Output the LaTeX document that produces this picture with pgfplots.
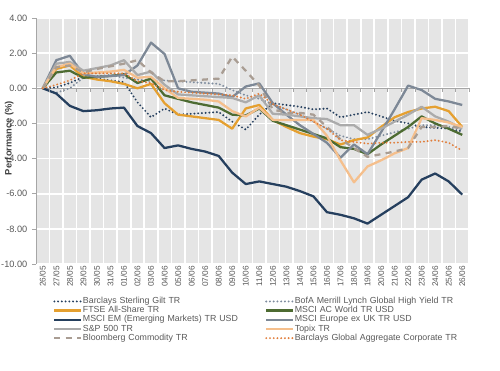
\documentclass[border=0pt]{standalone}
\usepackage{pgfplots}
\usepackage{pgfplotstable}
\pgfplotsset{compat=1.18}
\usepackage{fontspec}
\setmainfont{Liberation Sans}
\definecolor{bgc}{HTML}{E5E5E5}
\definecolor{axc}{HTML}{A6A6A6}
\definecolor{txt}{HTML}{595959}
\definecolor{lab}{HTML}{404040}
\definecolor{cnavy}{HTML}{253F5E}
\definecolor{cbofa}{HTML}{7E8C9E}
\definecolor{cgold}{HTML}{E5A030}
\definecolor{cgreen}{HTML}{4D6B32}
\definecolor{ceur}{HTML}{7D8896}
\definecolor{cspx}{HTML}{ABABAB}
\definecolor{ctopix}{HTML}{F5BF8C}
\definecolor{cbcom}{HTML}{A99D93}
\definecolor{cagg}{HTML}{E07D3A}
\pgfdeclareplotmark{dtick}{\pgfpathmoveto{\pgfpoint{0pt}{0pt}}\pgfpathlineto{\pgfpoint{0pt}{-2.5pt}}\pgfusepathqstroke}
\pgfplotstableread{
i gilt bofa ftse acwi em eur spx topix bcom agg
0 0 0 0 0 0 0 0 0 0 0
1 0.05 -0.25 1.1 0.9 -0.3 1.6 1.4 1.2 1.2 0.2
2 0.3 0.0 1.3 1.0 -1.0 1.85 1.5 1.4 1.3 0.45
3 0.65 0.6 0.65 0.6 -1.3 0.8 1.0 0.85 0.9 0.85
4 0.55 0.7 0.5 0.65 -1.25 0.65 1.15 0.9 1.1 0.85
5 0.45 0.75 0.4 0.7 -1.15 0.7 1.3 0.95 1.25 0.85
6 0.35 0.6 0.25 0.8 -1.1 0.75 1.6 1.05 1.4 0.85
7 -0.8 0.5 0.0 0.3 -2.15 1.3 0.75 0.6 1.6 0.4
8 -1.65 0.4 0.25 0.55 -2.55 2.6 0.95 0.65 0.9 0.3
9 -1.15 0.45 -0.85 -0.4 -3.4 1.95 0.2 0.0 0.4 -0.1
10 -1.5 0.4 -1.5 -0.6 -3.25 0.0 -0.35 -0.55 0.4 -0.2
11 -1.45 0.35 -1.6 -0.8 -3.45 -0.2 -0.4 -0.6 0.45 -0.25
12 -1.4 0.3 -1.7 -0.95 -3.6 -0.25 -0.45 -0.65 0.5 -0.3
13 -1.35 0.25 -1.8 -1.1 -3.85 -0.3 -0.5 -0.75 0.55 -0.35
14 -1.9 -0.1 -2.3 -1.5 -4.8 -0.5 -0.55 -1.3 1.8 -0.4
15 -2.35 -0.4 -1.15 -1.55 -5.45 0.1 -0.8 -1.6 1.0 -0.6
16 -1.5 -0.6 -0.95 -1.15 -5.3 0.28 -0.4 -1.1 0.15 -0.3
17 -0.85 -0.9 -1.8 -1.85 -5.45 -0.85 -1.45 -1.8 -1.2 -0.9
18 -0.95 -1.2 -2.2 -2.1 -5.6 -1.5 -1.5 -1.8 -1.4 -1.2
19 -1.05 -1.5 -2.55 -2.35 -5.85 -2.1 -1.6 -1.8 -1.4 -1.5
20 -1.2 -1.9 -2.75 -2.6 -6.15 -2.6 -1.7 -1.8 -1.5 -1.9
21 -1.15 -2.3 -2.9 -2.85 -7.05 -3.1 -1.75 -2.7 -2.2 -2.3
22 -1.65 -2.7 -3.2 -3.35 -7.2 -3.95 -2.1 -4.1 -2.9 -2.95
23 -1.5 -2.9 -2.95 -3.45 -7.4 -3.2 -2.1 -5.35 -3.4 -3.05
24 -1.35 -2.9 -2.8 -3.75 -7.7 -3.75 -2.65 -4.45 -3.9 -3.15
25 -1.6 -2.7 -2.2 -3.2 -7.2 -2.5 -2.3 -4.1 -3.75 -3.1
26 -1.85 -2.5 -1.65 -2.7 -6.7 -1.2 -1.9 -3.7 -3.6 -3.1
27 -2.0 -2.3 -1.35 -2.2 -6.2 0.15 -1.5 -3.4 -3.4 -3.05
28 -2.2 -2.1 -1.15 -1.6 -5.2 -0.1 -1.05 -1.7 -2.2 -3.05
29 -2.25 -2.1 -1.05 -2.0 -4.85 -0.6 -1.6 -1.8 -2.2 -2.95
30 -2.3 -2.2 -1.3 -2.3 -5.3 -0.75 -1.9 -1.95 -2.15 -3.1
31 -2.45 -2.35 -2.2 -2.65 -6.05 -0.95 -2.3 -2.2 -2.3 -3.55
}\datatab
\tikzset{
 sol/.style={line width=1.7pt, line join=round},
 dotl/.style={line width=1.6pt, line cap=round, dash pattern=on 0pt off 2.8pt},
}
\begin{document}
\begin{tikzpicture}
\begin{axis}[
 at={(0,0)}, anchor=south west,
 scale only axis, width=324.75pt, height=184.5pt,
 xmin=-0.5, xmax=31.5, ymin=-10, ymax=4,
 axis background/.style={fill=bgc},
 axis y line*=left, axis x line*=bottom,
 x axis line style={draw=none},
 y axis line style={draw=axc, line width=0.6pt, -},
 xtick={-0.5,0.5,...,31.5}, xticklabels={},
 grid=major,
 major grid style={white, line width=1.2pt},
 major tick length=3pt,
 xtick style={draw=none},
 extra x ticks={0,...,31},
 extra x tick labels={26/05,27/05,28/05,29/05,30/05,31/05,01/06,02/06,03/06,04/06,05/06,06/06,07/06,08/06,09/06,10/06,11/06,12/06,13/06,14/06,15/06,16/06,17/06,18/06,19/06,20/06,21/06,22/06,23/06,24/06,25/06,26/06},
 extra x tick style={grid=none, major tick length=0pt, tick label style={rotate=90, anchor=east, font=\fontsize{6.2}{7}\selectfont, text=txt, inner sep=1.5pt}},
 ytick={-10,-8,...,4},
 yticklabel style={font=\fontsize{6.9}{8}\selectfont, text=txt, /pgf/number format/.cd, fixed, fixed zerofill, precision=2, assume math mode=true},
 ytick style={axc, line width=0.5pt}, tick align=outside,
 ylabel={Performance (\%)},
 ylabel style={font=\bfseries\fontsize{7}{8}\selectfont, text=lab, at={(axis description cs:-0.062,0.512)}, anchor=center},
 legend columns=2,
 legend style={at={(axis description cs:0.03,-0.12)}, anchor=north west, draw=none, fill=none, font=\fontsize{6.6}{7.2}\selectfont, text=txt, row sep=-0.6pt, nodes={inner sep=0.6pt, text width=136pt, align=left}, cells={anchor=west}},
 legend image code/.code={\draw[#1] (0pt,0pt) -- (20pt,0pt);},
]
\addplot[axc, line width=0.6pt, forget plot] coordinates {(-0.5,0) (31.5,0)};
\addplot[axc, line width=0.5pt, only marks, mark=dtick, forget plot] coordinates {(-0.5,0) (0.5,0) (1.5,0) (2.5,0) (3.5,0) (4.5,0) (5.5,0) (6.5,0) (7.5,0) (8.5,0) (9.5,0) (10.5,0) (11.5,0) (12.5,0) (13.5,0) (14.5,0) (15.5,0) (16.5,0) (17.5,0) (18.5,0) (19.5,0) (20.5,0) (21.5,0) (22.5,0) (23.5,0) (24.5,0) (25.5,0) (26.5,0) (27.5,0) (28.5,0) (29.5,0) (30.5,0) (31.5,0)};
\addplot[dotl, color=cnavy] table[x=i, y=gilt] {\datatab};
\addlegendentry{Barclays Sterling Gilt TR}
\addplot[dotl, color=cbofa] table[x=i, y=bofa] {\datatab};
\addlegendentry{BofA Merrill Lynch Global High Yield TR}
\addplot[sol, color=cgold] table[x=i, y=ftse] {\datatab};
\addlegendentry{FTSE All-Share TR}
\addplot[sol, color=cgreen] table[x=i, y=acwi] {\datatab};
\addlegendentry{MSCI AC World TR USD}
\addplot[sol, color=cnavy] table[x=i, y=em] {\datatab};
\addlegendentry{MSCI EM  (Emerging Markets) TR USD}
\addplot[sol, color=ceur] table[x=i, y=eur] {\datatab};
\addlegendentry{MSCI Europe ex UK TR USD}
\addplot[sol, color=cspx] table[x=i, y=spx] {\datatab};
\addlegendentry{S\&P 500 TR}
\addplot[sol, color=ctopix] table[x=i, y=topix] {\datatab};
\addlegendentry{Topix TR}
\addplot[line width=1.7pt, color=cbcom, dash pattern=on 4.5pt off 4pt] table[x=i, y=bcom] {\datatab};
\addlegendentry{Bloomberg Commodity TR}
\addplot[dotl, color=cagg] table[x=i, y=agg] {\datatab};
\addlegendentry{Barclays Global Aggregate Corporate TR}
\end{axis}
\pgfresetboundingbox
\path[use as bounding box] (-27pt,-80.25pt) rectangle (348pt,198pt);
\end{tikzpicture}
\end{document}
